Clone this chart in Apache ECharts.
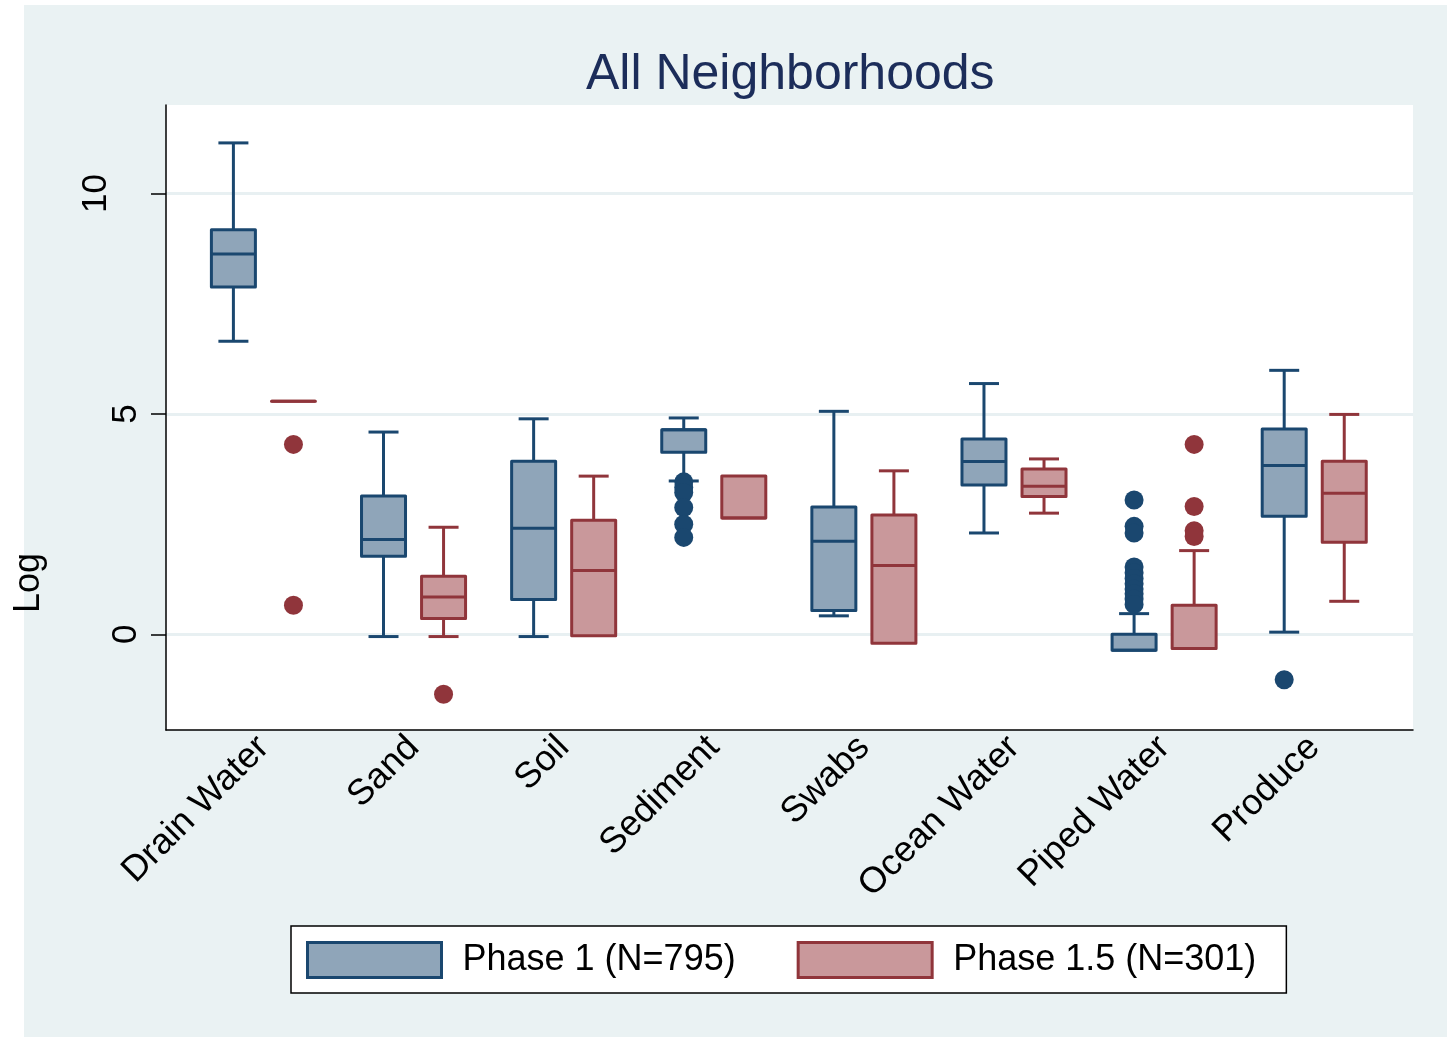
<!DOCTYPE html>
<html>
<head>
<meta charset="utf-8">
<script src="https://cdn.jsdelivr.net/npm/echarts@6/dist/echarts.min.js"></script>
<style>
html,body{margin:0;padding:0;background:#ffffff;}
#main{width:1447px;height:1037px;}
</style>
</head>
<body>
<div id="main"></div>
<script>
// ---------------- DATA ----------------
const categories = ['Drain Water', 'Sand', 'Soil', 'Sediment', 'Swabs', 'Ocean Water', 'Piped Water', 'Produce'];
const seriesNames = ['Phase 1 (N=795)', 'Phase 1.5 (N=301)'];
const yTicks = [0, 5, 10];

// Phase 1: lower whisker, Q1, median, Q3, upper whisker
const p1Low  = [6.65, -0.05, -0.05, 3.48, 0.42, 2.30, -0.36, 0.05];
const p1Q1   = [7.88,  1.77,  0.79, 4.13, 0.54, 3.39, -0.36, 2.68];
const p1Med  = [8.63,  2.15,  2.41, 4.64, 2.11, 3.92, -0.36, 3.83];
const p1Q3   = [9.18,  3.14,  3.93, 4.64, 2.89, 4.43,  0.00, 4.66];
const p1High = [11.15, 4.59,  4.89, 4.91, 5.06, 5.69,  0.47, 5.99];
const p1Outliers = [
  [], [], [],
  [3.46, 3.33, 3.22, 2.88, 2.50, 2.20],
  [], [],
  [3.05, 2.45, 2.30, 1.53, 1.40, 1.27, 1.15, 1.03, 0.92, 0.80, 0.68],
  [-1.03]
];

// Phase 1.5
const p15Low  = [5.29, -0.05, -0.03, 2.64, -0.20, 2.75, -0.32, 0.75];
const p15Q1   = [5.29,  0.36, -0.03, 2.64, -0.20, 3.13, -0.32, 2.09];
const p15Med  = [5.29,  0.85,  1.45, 2.64,  1.56, 3.36, -0.32, 3.20];
const p15Q3   = [5.29,  1.32,  2.59, 3.59,  2.71, 3.75,  0.66, 3.93];
const p15High = [5.29,  2.43,  3.59, 3.59,  3.71, 3.98,  1.90, 4.99];
const p15Outliers = [
  [4.31, 0.66],
  [-1.36],
  [], [], [], [],
  [4.31, 2.90, 2.35, 2.22],
  []
];

// ---------------- STYLE ----------------
const C1 = {stroke: '#1a476f', fill: '#8fa5b9'};
const C2 = {stroke: '#90353b', fill: '#c9989b'};
const FONT = '"Liberation Sans", Arial, sans-serif';
const OFFSET = 0.2;   // half distance between the two boxes of a group (in category units)
const BOX_HALF = 22, CAP_HALF = 15, LW = 3;

function boxData(lo, q1, md, q3, hi, off) {
  return categories.map((c, i) => [i + off, lo[i], q1[i], md[i], q3[i], hi[i]]);
}
function outlierData(arr, off) {
  const out = [];
  arr.forEach((vals, i) => vals.forEach(v => out.push([i + off, v])));
  return out;
}

function makeRender(col) {
  return function (params, api) {
    const x = api.value(0);
    const lo = api.value(1), q1 = api.value(2), md = api.value(3), q3 = api.value(4), hi = api.value(5);
    const px = api.coord([x, md])[0];
    const yLo = api.coord([x, lo])[1], yQ1 = api.coord([x, q1])[1], yMd = api.coord([x, md])[1];
    const yQ3 = api.coord([x, q3])[1], yHi = api.coord([x, hi])[1];
    const ls = {stroke: col.stroke, lineWidth: LW, fill: null};
    const children = [];
    if (hi > q3 + 1e-9) {
      children.push({type: 'line', shape: {x1: px, y1: yQ3, x2: px, y2: yHi}, style: ls});
      children.push({type: 'line', shape: {x1: px - CAP_HALF, y1: yHi, x2: px + CAP_HALF, y2: yHi}, style: ls});
    }
    if (lo < q1 - 1e-9) {
      children.push({type: 'line', shape: {x1: px, y1: yQ1, x2: px, y2: yLo}, style: ls});
      children.push({type: 'line', shape: {x1: px - CAP_HALF, y1: yLo, x2: px + CAP_HALF, y2: yLo}, style: ls});
    }
    children.push({type: 'rect', shape: {x: px - BOX_HALF, y: yQ3, width: BOX_HALF * 2, height: yQ1 - yQ3},
      style: {fill: col.fill, stroke: col.stroke, lineWidth: LW, lineJoin: 'round'}});
    children.push({type: 'line', shape: {x1: px - BOX_HALF, y1: yMd, x2: px + BOX_HALF, y2: yMd}, style: ls});
    return {type: 'group', children: children};
  };
}

const chart = echarts.init(document.getElementById('main'), null, {renderer: 'canvas'});
const option = {
  backgroundColor: '#ffffff',
  animation: false,
  textStyle: {fontFamily: FONT},
  graphic: [
    {type: 'rect', z: -100, shape: {x: 24, y: 5, width: 1423, height: 1032}, style: {fill: '#eaf2f3'}, silent: true},
    {type: 'text', z: 10, x: 29, y: 583, rotation: Math.PI / 2,
      style: {text: 'Log', fontSize: 36, fontFamily: FONT, fill: '#000000', align: 'center', verticalAlign: 'middle'}}
  ],
  title: {
    text: 'All Neighborhoods',
    left: 586, top: 50, padding: 0,
    textStyle: {fontSize: 50, fontWeight: 'normal', color: '#1c2d5a', fontFamily: FONT}
  },
  legend: {
    data: [
      {name: seriesNames[0], icon: 'rect', itemStyle: {color: C1.fill, borderColor: C1.stroke, borderWidth: 3}},
      {name: seriesNames[1], icon: 'rect', itemStyle: {color: C2.fill, borderColor: C2.stroke, borderWidth: 3}}
    ],
    left: 291, top: 926,
    orient: 'horizontal',
    padding: [15, 30, 14, 15],
    itemWidth: 134, itemHeight: 35, itemGap: 61,
    backgroundColor: '#ffffff', borderColor: '#000000', borderWidth: 1.5, borderRadius: 0,
    textStyle: {fontSize: 36, color: '#000000', fontFamily: FONT, padding: [3, 0, 0, 16]},
    selectedMode: false
  },
  grid: {
    left: 166, right: 34, top: 105, bottom: 307,
    show: true, backgroundColor: '#ffffff', borderWidth: 0, containLabel: false
  },
  xAxis: {
    type: 'value', min: -0.649, max: 7.658,
    axisLine: {show: true, onZero: false, lineStyle: {color: '#000000', width: 1.5}},
    axisTick: {show: false},
    splitLine: {show: false},
    axisLabel: {
      customValues: categories.map((c, i) => i),
      formatter: v => categories[Math.round(v)],
      rotate: 45, fontSize: 36, color: '#000000', margin: 12, fontFamily: FONT
    }
  },
  yAxis: {
    type: 'value', min: -2.17, max: 12.01,
    axisLine: {show: true, onZero: false, lineStyle: {color: '#000000', width: 1.5}},
    axisTick: {show: true, customValues: yTicks, length: 15, lineStyle: {color: '#000000', width: 1.5}},
    splitLine: {show: true, lineStyle: {color: '#e8f0f2', width: 3}},
    axisLabel: {
      customValues: yTicks,
      rotate: 90, margin: 22, color: '#000000', fontSize: 35, fontFamily: FONT,
      formatter: v => (v === 10 ? '{w|10}' : '{n|' + v + '}'),
      rich: {w: {fontSize: 35, padding: [0, 0, 30, 0], fontFamily: FONT}, n: {fontSize: 35, fontFamily: FONT}}
    }
  },
  series: [
    {name: seriesNames[0], type: 'custom', renderItem: makeRender(C1),
      itemStyle: {color: C1.fill, borderColor: C1.stroke},
      encode: {x: 0, y: [1, 2, 3, 4, 5]}, data: boxData(p1Low, p1Q1, p1Med, p1Q3, p1High, -OFFSET)},
    {name: seriesNames[1], type: 'custom', renderItem: makeRender(C2),
      itemStyle: {color: C2.fill, borderColor: C2.stroke},
      encode: {x: 0, y: [1, 2, 3, 4, 5]}, data: boxData(p15Low, p15Q1, p15Med, p15Q3, p15High, OFFSET)},
    {name: 'p1 outliers', type: 'scatter', symbol: 'circle', symbolSize: 19,
      itemStyle: {color: C1.stroke, opacity: 1}, data: outlierData(p1Outliers, -OFFSET), z: 3},
    {name: 'p15 outliers', type: 'scatter', symbol: 'circle', symbolSize: 19,
      itemStyle: {color: C2.stroke, opacity: 1}, data: outlierData(p15Outliers, OFFSET), z: 3}
  ]
};
chart.setOption(option);
</script>
</body>
</html>
